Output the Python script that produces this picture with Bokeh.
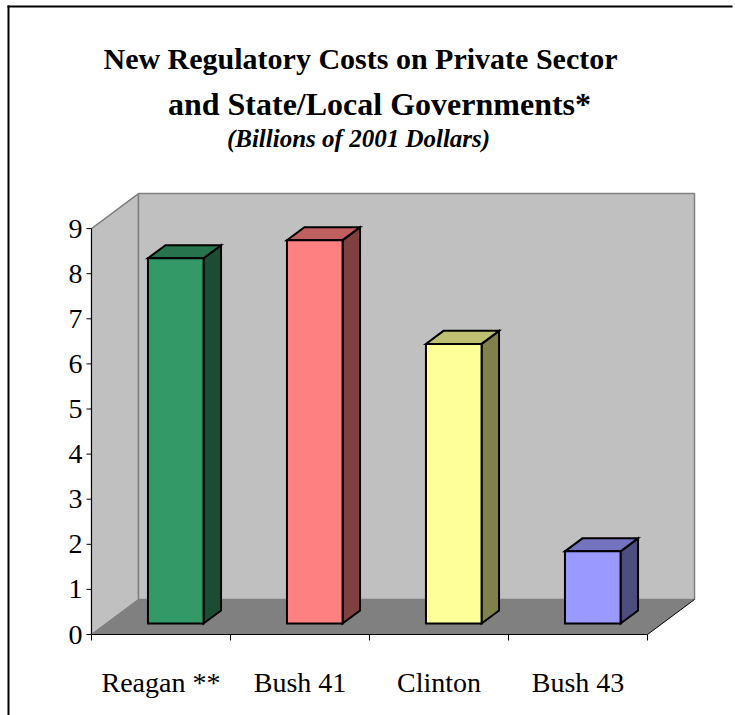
from bokeh.plotting import figure
from bokeh.models import Range1d
from bokeh.core.properties import value
from bokeh.embed import file_html
from bokeh.resources import INLINE

# ---- data ----
categories = ["Reagan **", "Bush 41", "Clinton", "Bush 43"]
costs = [8.1, 8.5, 6.2, 1.6]
y_ticks = [0, 1, 2, 3, 4, 5, 6, 7, 8, 9]
y_max = 9
title_line1 = "New Regulatory Costs on Private Sector"
title_line2 = "and State/Local Governments*"
subtitle = "(Billions of 2001 Dollars)"

# ---- styles ----
front_colors = ["#339966", "#FF8080", "#FFFF99", "#9999FF"]
top_colors = ["#26734D", "#BF6060", "#BFBF73", "#7373BF"]
side_colors = ["#1A4D33", "#804040", "#80804D", "#4D4D80"]
FONT = value("Liberation Serif")

# ---- layout (pixels) ----
W, H = 735, 715
X0, CAT = 91, 139          # x pixel of category 0, pixels per category
Y0, UNIT = 634, 45.1       # y pixel of value 0, pixels per unit
DEPTH_X, DEPTH_Y = 47, 35  # 3D depth offset in pixels
BAR_FRONT, BAR_BACK = 0.314, 0.686  # depth fractions of bar faces
BAR_W = 0.4


def cx(px):
    return (px - X0) / CAT


def vy(py):
    return (Y0 - py) / UNIT


DX = DEPTH_X / CAT
DY = DEPTH_Y / UNIT
n = len(categories)

p = figure(width=W, height=H, x_range=Range1d(cx(0), cx(W)), y_range=Range1d(vy(H), vy(0)),
           x_axis_type=None, y_axis_type=None, toolbar_location=None, output_backend="svg",
           min_border=0, outline_line_color=None, background_fill_color="white",
           border_fill_color="white")
p.xgrid.visible = False
p.ygrid.visible = False

# walls and floor
p.patch([0, 0, DX, DX], [0, y_max, y_max + DY, DY], fill_color="#C0C0C0",
        line_color="#808080", line_width=1.5)
p.quad(left=[DX], right=[n + DX], bottom=[DY], top=[y_max + DY], fill_color="#C0C0C0",
       line_color="#808080", line_width=1.5)
p.patch([0, n, n + DX, DX], [0, 0, DY, DY], fill_color="#808080", line_color=None)
p.segment(x0=[n], y0=[0], x1=[n + DX], y1=[DY], line_color="black", line_width=1)

# bars (3D)
fx, fy = BAR_FRONT * DX, BAR_FRONT * DY
bx, by = BAR_BACK * DX, BAR_BACK * DY
side_xs, side_ys, top_xs, top_ys = [], [], [], []
lefts, rights, bottoms, tops = [], [], [], []
for i, v in enumerate(costs):
    L = i + 0.5 - BAR_W / 2
    R = i + 0.5 + BAR_W / 2
    side_xs.append([R + fx, R + bx, R + bx, R + fx])
    side_ys.append([fy, by, v + by, v + fy])
    top_xs.append([L + fx, R + fx, R + bx, L + bx])
    top_ys.append([v + fy, v + fy, v + by, v + by])
    lefts.append(L + fx)
    rights.append(R + fx)
    bottoms.append(fy)
    tops.append(v + fy)

p.patches(xs=side_xs, ys=side_ys, fill_color=side_colors, line_color="black", line_width=2,
          line_join="miter")
p.patches(xs=top_xs, ys=top_ys, fill_color=top_colors, line_color="black", line_width=2,
          line_join="miter")
p.quad(left=lefts, right=rights, bottom=bottoms, top=tops, fill_color=front_colors,
       line_color="black", line_width=2, line_join="miter")

# axes
p.segment(x0=[0, 0], y0=[0, 0], x1=[0, n], y1=[y_max, 0], line_color="black", line_width=1)
p.segment(x0=[cx(X0 - 5)] * len(y_ticks), y0=y_ticks, x1=[0] * len(y_ticks), y1=y_ticks,
          line_color="black", line_width=1)
p.segment(x0=list(range(n + 1)), y0=[0] * (n + 1), x1=list(range(n + 1)),
          y1=[vy(Y0 + 6)] * (n + 1), line_color="black", line_width=1)
p.text(x=[cx(82)] * len(y_ticks), y=y_ticks, text=[str(t) for t in y_ticks],
       text_font=FONT, text_font_size="28px", text_align="right", text_baseline="middle",
       text_color="black")
p.text(x=[i + 0.5 for i in range(n)], y=[vy(682)] * n, text=categories, text_font=FONT,
       text_font_size="28px", text_align="center", text_baseline="alphabetic",
       text_color="black")

# titles
p.text(x=[cx(360)], y=[vy(58)], text=[title_line1], text_font=FONT, text_font_size="30px",
       text_font_style="bold", text_align="center", text_baseline="alphabetic")
p.text(x=[cx(379)], y=[vy(103)], text=[title_line2], text_font=FONT, text_font_size="32px",
       text_font_style="bold", text_align="center", text_baseline="alphabetic")
p.text(x=[cx(358)], y=[vy(138)], text=[subtitle], text_font=FONT, text_font_size="25px",
       text_font_style="bold italic", text_align="center", text_baseline="alphabetic")

# chart border: left edge and top edge as separate strips
p.quad(left=[cx(7)], right=[cx(9)], bottom=[vy(H + 40)], top=[vy(5)],
       fill_color="black", line_color=None)
p.hbar(y=[vy(6)], left=[cx(7)], right=[cx(W - 3)], height=2 / UNIT,
       fill_color="black", line_color=None)

open("out.html", "w").write(file_html(p, INLINE))
